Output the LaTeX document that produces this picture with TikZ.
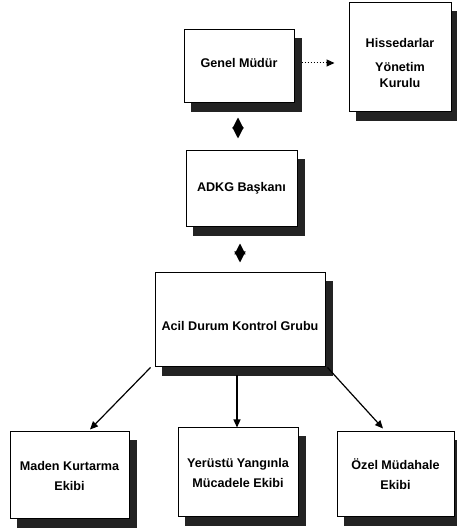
\documentclass[tikz,border=0pt]{standalone}
\usepackage{fontspec}
\setmainfont{Liberation Sans}
\usetikzlibrary{arrows.meta, backgrounds}
\definecolor{ShadowGrey}{RGB}{35, 35, 35}

\begin{document}
\begin{tikzpicture}[x=1pt, y=1pt,
    kutu/.style={draw=black, line width=1pt, fill=white, align=center, inner sep=0pt,
        font=\fontsize{12.6}{20}\selectfont\bfseries},
    golge/.style={fill=ShadowGrey},
    ok/.style={line width=1.2pt, -{Triangle[length=8pt, width=7pt]}},
    ciftok/.style={line width=1.2pt, {Triangle[length=11pt, width=11pt]}-{Triangle[length=11pt, width=11pt]}},
    noktaok/.style={line width=1pt, dotted, -{Triangle[length=8pt, width=7pt]}}]
    \useasboundingbox (0,0) rectangle (456,529);

    % Ust yonetim
    \node[kutu, minimum width=110pt, minimum height=73pt, text height=9pt, text depth=7pt] (genel) at (239,462.5) {Genel Müdür};
    \node[kutu, minimum width=102pt, minimum height=109pt, text height=61pt, font=\fontsize{12.6}{16}\selectfont\bfseries] (hisse) at (400,471.5) {Hissedarlar\\[8pt]Yönetim\\Kurulu};
    \draw[noktaok, shorten <=7pt, shorten >=14pt] ([yshift=3.5pt]genel.east) -- ([yshift=3.5pt]genel.east -| hisse.west);

    % ADKG Baskani
    \node[kutu, minimum width=111pt, minimum height=76pt, text height=9pt, text depth=4pt] (adkg) at (241.5,340) {ADKG Başkanı};
    \draw[ciftok, shorten <=14pt, shorten >=12pt] ([xshift=-1pt]genel.south) -- ([xshift=-1pt]genel.south |- adkg.north);

    % Acil Durum Kontrol Grubu
    \node[kutu, minimum width=170pt, minimum height=94pt, text height=22pt, text depth=0pt] (acil) at (240,209) {Acil Durum Kontrol Grubu};
    \draw[ciftok, shorten <=16pt, shorten >=10pt] ([xshift=-1.5pt]adkg.south) -- ([xshift=-1.5pt]adkg.south |- acil.north);

    % Ekipler
    \node[kutu, minimum width=119pt, minimum height=87pt] (maden) at (69.5,53.5) {Maden Kurtarma\\Ekibi};
    \node[kutu, minimum width=120pt, minimum height=89pt] (yerustu) at (238,56.5) {Yerüstü Yangınla\\Mücadele Ekibi};
    \node[kutu, minimum width=117pt, minimum height=85pt] (ozel) at (395.5,54.5) {Özel Müdahale\\Ekibi};

    \draw[ok] ([xshift=-4pt]acil.south west) -- ([xshift=20.5pt, yshift=2pt]maden.north);
    \draw[ok, shorten <=8pt] ([xshift=-1pt]yerustu.north |- acil.south) -- ([xshift=-1pt]yerustu.north);
    \draw[ok] ([xshift=2pt]acil.south east) -- ([xshift=-12.5pt, yshift=3pt]ozel.north);

    % Golgeler
    \begin{scope}[on background layer]
        \foreach \k in {genel, hisse, adkg, acil, maden, yerustu, ozel}
            \fill[golge] ([shift={(7,-9)}]\k.south west) rectangle ([shift={(7,-9)}]\k.north east);
    \end{scope}
\end{tikzpicture}
\end{document}
